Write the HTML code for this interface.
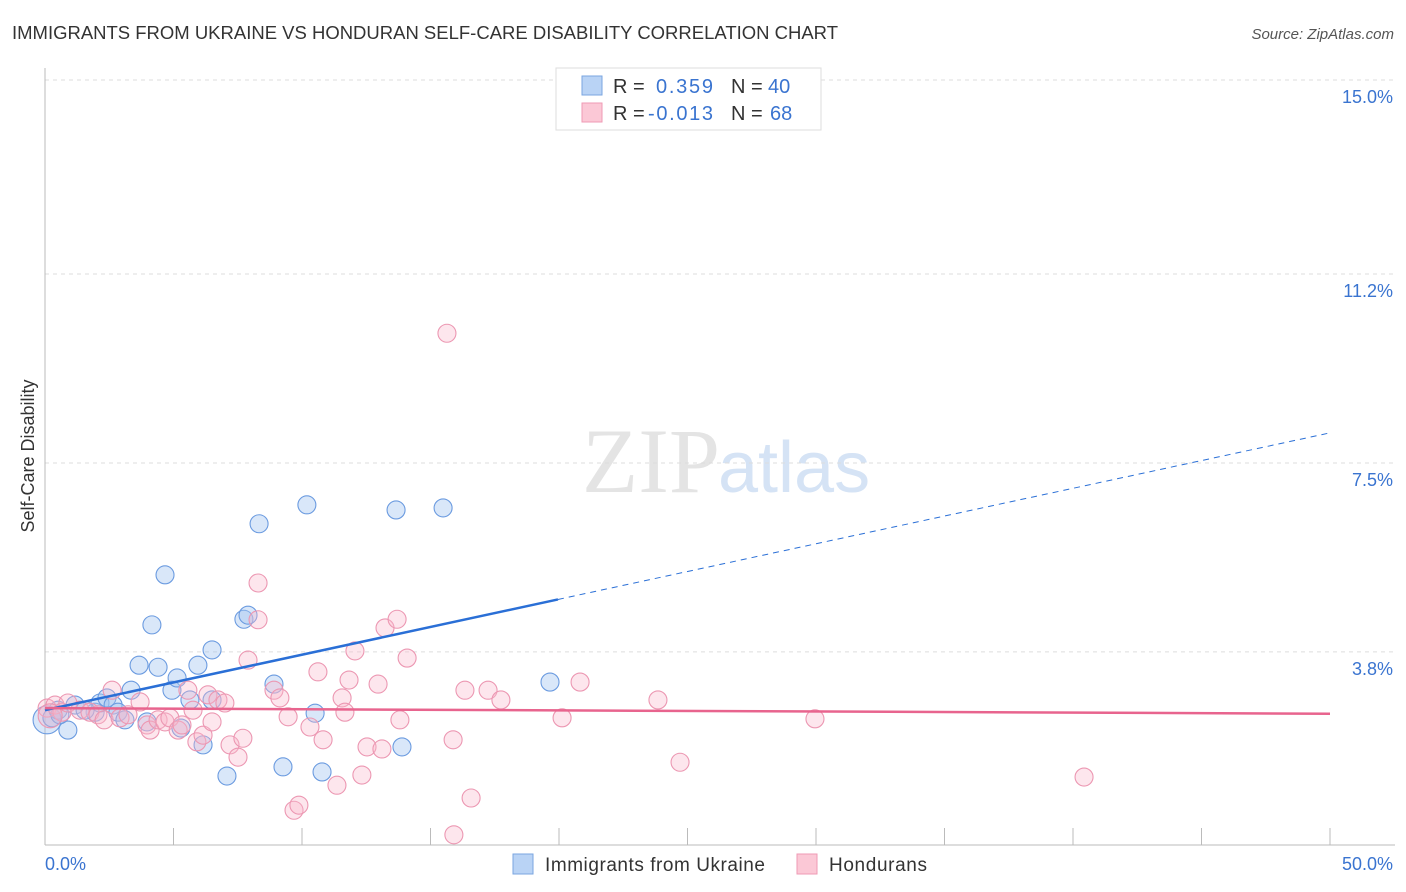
<!DOCTYPE html>
<html><head><meta charset="utf-8"><style>
body{margin:0;background:#fff;font-family:"Liberation Sans",sans-serif}
svg{display:block}
</style></head><body>
<svg id="c" width="1406" height="892">
<text x="12" y="39" font-size="18" fill="#333" textLength="826" lengthAdjust="spacingAndGlyphs">IMMIGRANTS FROM UKRAINE VS HONDURAN SELF-CARE DISABILITY CORRELATION CHART</text>
<text x="1394" y="39" font-size="15" fill="#555" font-style="italic" text-anchor="end">Source: ZipAtlas.com</text>
<text x="720" y="492" font-size="92" fill="#e4e4e4" text-anchor="end" font-family="Liberation Serif,serif">ZIP</text>
<text x="718" y="492" font-size="72" fill="#d5e3f5">atlas</text>
<text transform="translate(34,456) rotate(-90)" font-size="18" fill="#333" text-anchor="middle">Self-Care Disability</text>
<g id="grid"></g><g id="pts"></g><g id="trend"></g>
<g>
<rect x="556" y="68" width="265" height="62" fill="#fff" stroke="#ddd"/>
<rect x="582" y="76" width="20" height="19" fill="#b9d3f5" stroke="#7aa6e0"/>
<rect x="582" y="103" width="20" height="19" fill="#fbc8d6" stroke="#ef9ab4"/>
<text x="613" y="93" font-size="20" fill="#333">R =</text><text x="656" y="93" font-size="20" fill="#3a74d0" textLength="57">0.359</text>
<text x="731" y="93" font-size="20" fill="#333">N =</text><text x="768" y="93" font-size="20" fill="#3a74d0">40</text>
<text x="613" y="120" font-size="20" fill="#333">R =</text><text x="648" y="120" font-size="20" fill="#3a74d0" textLength="65">-0.013</text>
<text x="731" y="120" font-size="20" fill="#333">N =</text><text x="770" y="120" font-size="20" fill="#3a74d0">68</text>
</g>
<g>
<rect x="513" y="854" width="20" height="20" fill="#b9d3f5" stroke="#7aa6e0"/>
<text x="545" y="871" font-size="19" fill="#333" textLength="220">Immigrants from Ukraine</text>
<rect x="797" y="854" width="20" height="20" fill="#fbc8d6" stroke="#ef9ab4"/>
<text x="829" y="871" font-size="19" fill="#333" textLength="98">Hondurans</text>
</g>
</svg>
<script>
const xTicks=[0,5,10,15,20,25,30,35,40,45,50];
const yTicks=[3.8,7.5,11.2,15.0];
const blueX=[0.08,0.27,0.89,0.51,1.17,1.95,2.14,2.41,2.65,2.84,3.11,3.35,3.66,3.97,4.16,4.40,4.67,4.94,5.14,5.29,5.64,5.95,6.15,6.50,6.50,7.08,7.74,7.90,8.33,8.91,9.26,10.19,10.51,10.78,13.66,13.89,15.49,19.65,0.58,1.56];
const blueY=[2.47,2.51,2.27,2.66,2.76,2.62,2.80,2.90,2.76,2.62,2.47,3.05,3.54,2.43,4.33,3.50,5.31,3.05,3.29,2.31,2.86,3.54,1.98,3.84,2.86,1.37,4.44,4.52,6.31,3.17,1.55,6.68,2.60,1.45,6.58,1.94,6.62,3.21,2.57,2.66];
const pinkX=[0.08,0.39,0.66,0.89,1.36,1.75,2.06,2.30,2.61,2.92,3.23,3.70,3.97,4.09,4.40,4.67,4.86,5.18,5.33,5.56,5.76,5.91,6.15,6.34,6.50,6.73,7.00,7.20,7.51,7.70,7.90,8.29,8.29,8.91,9.14,9.46,9.69,9.88,10.31,10.62,10.82,11.36,11.56,11.67,11.83,12.06,12.33,12.53,12.96,13.11,13.23,13.70,13.81,14.09,15.64,15.88,15.91,16.34,16.58,17.24,17.74,20.12,20.82,23.85,24.71,29.96,40.43,0.2];
const pinkY=[2.70,2.76,2.62,2.80,2.66,2.62,2.57,2.47,3.05,2.51,2.57,2.82,2.37,2.27,2.47,2.43,2.51,2.27,2.37,3.05,2.66,2.04,2.17,2.96,2.43,2.86,2.80,1.98,1.74,2.11,3.64,5.15,4.43,3.05,2.90,2.53,0.70,0.80,2.33,3.41,2.08,1.19,2.90,2.62,3.25,3.82,1.39,1.94,3.17,1.90,4.27,4.44,2.47,3.68,10.04,2.08,0.22,3.05,0.94,3.05,2.86,2.51,3.21,2.86,1.64,2.49,1.35,2.55];
const blueTrend=[2.66,8.09], pinkTrend=[2.70,2.59], blueSolidEnd=19.96;
const NS='http://www.w3.org/2000/svg';
const sx=v=>45+v*25.7, sy=v=>846-v*51.07;
function mk(tag,a,p){const e=document.createElementNS(NS,tag);for(const k in a)e.setAttribute(k,a[k]);p.appendChild(e);return e;}
const G=document.getElementById('grid');
yTicks.forEach(t=>{
 const l=mk('line',{x1:45,x2:1395,y1:sy(t),y2:sy(t),stroke:'#ddd','stroke-dasharray':'4,4'},G);
 
 
 const tx=mk('text',{x:1393,y:sy(t)+23,'font-size':18,fill:'#3a74d0','text-anchor':'end'},G);tx.textContent=t.toFixed(1)+'%';
 
 
});
mk('line',{x1:45,x2:45,y1:68,y2:845,stroke:'#bbb'},G);
mk('line',{x1:45,x2:1395,y1:845,y2:845,stroke:'#bbb'},G);
xTicks.forEach(t=>{if(t>0){const l=mk('line',{x1:sx(t),x2:sx(t),y1:828,y2:845,stroke:'#bbb'},G);
 
 }});
[[0,'0.0%',45,'start'],[50,'50.0%',1393,'end']].forEach(d=>{const tx=mk('text',{x:d[2],y:870,'font-size':18,fill:'#3a74d0','text-anchor':d[3]},G);tx.textContent=d[1];
 
 });
const P=document.getElementById('pts');
blueX.forEach((x,i)=>{const c=mk('circle',{cx:sx(x),cy:sy(blueY[i]),r:i==0?14:9,fill:'rgba(160,196,240,0.4)',stroke:'#6b9be0','stroke-width':1.1},P);
 
 });
pinkX.forEach((x,i)=>{const c=mk('circle',{cx:sx(x),cy:sy(pinkY[i]),r:i==pinkX.length-1?12:9,fill:'rgba(248,184,204,0.35)',stroke:'#ec97b2','stroke-width':1.1},P);
 
 });
const T=document.getElementById('trend');
const by=x=>blueTrend[0]+(blueTrend[1]-blueTrend[0])*x/50;
let l=mk('line',{x1:sx(0),y1:sy(by(0)),x2:sx(blueSolidEnd),y2:sy(by(blueSolidEnd)),stroke:'#2a6fd6','stroke-width':2.5},T);


l=mk('line',{x1:sx(blueSolidEnd),y1:sy(by(blueSolidEnd)),x2:sx(50),y2:sy(by(50)),stroke:'#2a6fd6','stroke-width':1,'stroke-dasharray':'6,5'},T);


l=mk('line',{x1:sx(0),y1:sy(pinkTrend[0]),x2:sx(50),y2:sy(pinkTrend[1]),stroke:'#e8648e','stroke-width':2.5},T);


</script>
</body></html>
